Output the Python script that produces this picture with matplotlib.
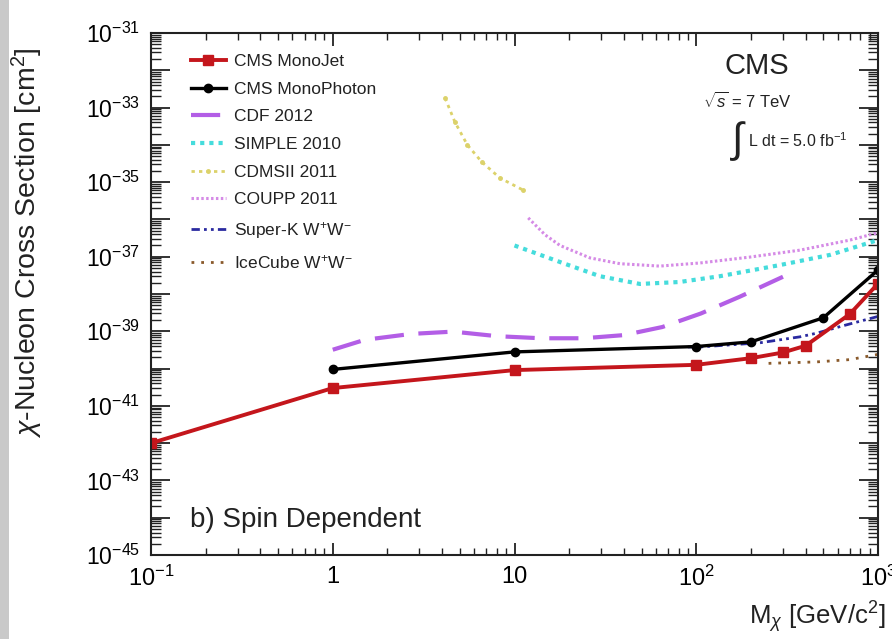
import matplotlib
matplotlib.use("Agg")
import matplotlib.pyplot as plt
from matplotlib.ticker import LogLocator, FuncFormatter, NullFormatter
from matplotlib.patches import Rectangle
import numpy as np

plt.rcParams['font.family'] = ['Liberation Sans', 'DejaVu Sans']
plt.rcParams['mathtext.fontset'] = 'custom'
plt.rcParams['mathtext.rm'] = 'Liberation Sans'
plt.rcParams['mathtext.it'] = 'Liberation Sans:italic'
plt.rcParams['mathtext.bf'] = 'Liberation Sans:bold'

# ---- data ----
monojet_mass = [0.1, 1, 10, 100, 200, 300, 400, 700, 1000]
monojet_xsec = [1.0e-42, 3.0e-41, 9.1e-41, 1.26e-40, 1.9e-40, 2.7e-40, 4.1e-40, 2.9e-39, 1.9e-38]

monophoton_mass = [1, 10, 100, 200, 500, 1000]
monophoton_xsec = [9.5e-41, 2.8e-40, 3.9e-40, 5.2e-40, 2.3e-39, 4.4e-38]

cdf_mass = [1, 1.5, 2.7, 4.6, 8, 14, 24, 40, 65, 106, 174, 300]
cdf_xsec = [3.2e-40, 5.9e-40, 8.5e-40, 9.8e-40, 7.4e-40, 6.5e-40, 6.5e-40, 7.9e-40, 1.3e-39, 3.0e-39, 8.5e-39, 2.9e-38]

simple_mass = [10, 17.8, 29.5, 49, 81, 135, 290, 545, 1000]
simple_xsec = [2.0e-37, 7.2e-38, 3.0e-38, 1.86e-38, 2.1e-38, 3.0e-38, 6.0e-38, 1.12e-37, 2.8e-37]

cdms_mass = [4.15, 4.7, 5.5, 6.6, 8.3, 11.1]
cdms_xsec = [1.8e-33, 4.1e-34, 1.0e-34, 3.5e-35, 1.3e-35, 6.2e-36]

coupp_mass = [11.9, 14.7, 17.8, 26, 38, 63, 105, 198, 372, 702, 1000]
coupp_xsec = [1.1e-36, 3.9e-37, 2.0e-37, 9.3e-38, 6.5e-38, 5.6e-38, 6.8e-38, 9.8e-38, 1.5e-37, 2.8e-37, 4.4e-37]

superk_mass = [90, 105, 223, 372, 460, 640, 1000]
superk_xsec = [3.8e-40, 3.8e-40, 4.9e-40, 7.1e-40, 8.9e-40, 1.4e-39, 2.5e-39]

icecube_mass = [250, 460, 700, 1000]
icecube_xsec = [1.38e-40, 1.51e-40, 1.74e-40, 2.4e-40]

labels = ["CMS MonoJet", "CMS MonoPhoton", "CDF 2012", "SIMPLE 2010",
          "CDMSII 2011", "COUPP 2011", "Super-K W$^{+}$W$^{-}$", "IceCube W$^{+}$W$^{-}$"]

# ---- figure ----
fig = plt.figure(figsize=(8.92, 6.39), dpi=100)
fig.patches.append(Rectangle((0, 0), 9/892, 1, transform=fig.transFigure,
                             facecolor='#c9c9c9', edgecolor='none', zorder=0))
ax = fig.add_axes([151/892, 1 - 555/639, 727/892, 522/639])
ax.set_xscale('log')
ax.set_yscale('log')
ax.set_xlim(0.1, 1000)
ax.set_ylim(1e-45, 1e-31)

h = []
h += ax.plot(cdms_mass, cdms_xsec, color='#dcd26a', ls=(0, (1.2, 1.5)), lw=2.0,
             marker='o', ms=2.5, label=labels[4])
h += ax.plot(coupp_mass, coupp_xsec, color='#d58be6', ls=(0, (0.8, 0.8)), lw=2.2, label=labels[5])
h += ax.plot(simple_mass, simple_xsec, color='#45dcdc', ls=(0, (1, 1.2)), lw=3.0, label=labels[3])
h += ax.plot(cdf_mass, cdf_xsec, color='#b35ee6', ls=(0, (7, 3.5)), lw=3.0, label=labels[2])
h += ax.plot(icecube_mass, icecube_xsec, color='#8a5a2b', ls=(0, (1, 2.5)), lw=2.0, label=labels[7])
h += ax.plot(superk_mass, superk_xsec, color='#2a2aa0', ls=(0, (3, 1.5, 1, 1.5, 1, 1.5)), lw=2.0,
             label=labels[6])
h += ax.plot(monophoton_mass, monophoton_xsec, color='black', lw=2.4, marker='o', ms=6,
             label=labels[1])
h += ax.plot(monojet_mass, monojet_xsec, color='#c4161c', lw=2.8, marker='s', ms=6.5,
             label=labels[0])

order = [labels[0], labels[1], labels[2], labels[3], labels[4], labels[5], labels[6], labels[7]]
hd = {l.get_label(): l for l in h}
leg = ax.legend([hd[o] for o in order], order, loc='upper left',
                bbox_to_anchor=(40/727, 1 - 21/522), frameon=False, fontsize=12.5,
                handlelength=2.0, handletextpad=0.5, labelspacing=0.72, borderaxespad=0,
                borderpad=0)
for t in leg.get_texts():
    t.set_color('#222222')

# ticks
ax.yaxis.set_major_locator(LogLocator(base=10, numticks=30))
ax.yaxis.set_minor_locator(LogLocator(base=10, subs=np.arange(2, 10), numticks=30))
def yfmt(v, pos):
    e = int(round(np.log10(v)))
    return r'$10^{%d}$' % e if e % 2 != 0 else ''
ax.yaxis.set_major_formatter(FuncFormatter(yfmt))
ax.yaxis.set_minor_formatter(NullFormatter())

ax.xaxis.set_major_locator(LogLocator(base=10, numticks=10))
ax.xaxis.set_minor_locator(LogLocator(base=10, subs=np.arange(2, 10), numticks=10))
def xfmt(v, pos):
    e = int(round(np.log10(v)))
    if e == 0:
        return '1'
    if e == 1:
        return '10'
    return r'$10^{%d}$' % e
ax.xaxis.set_major_formatter(FuncFormatter(xfmt))
ax.xaxis.set_minor_formatter(NullFormatter())

ax.tick_params(which='both', direction='in', top=True, right=True, color='#222222')
ax.tick_params(axis='y', which='major', length=14, width=1.3, labelsize=16.5, pad=8)
ax.tick_params(axis='y', which='minor', length=7, width=1.0)
ax.tick_params(axis='x', which='major', length=9, width=1.3, labelsize=17, pad=8)
ax.tick_params(axis='x', which='minor', length=5, width=1.0)
for s in ax.spines.values():
    s.set_linewidth(1.5)
    s.set_color('#222222')

fig.text(27/892, 1 - 243/639, r'$\chi$-Nucleon Cross Section [cm$^{2}$]', fontsize=20.5,
         rotation=90, ha='center', va='center', color='#222222')
ax.set_xlabel(r'M$_{\chi}$ [GeV/c$^{2}$]', fontsize=18.5, color='#222222', ha='right')
ax.xaxis.set_label_coords(1.01, -0.085)

fig.text(757/892, 1 - 66/639, 'CMS', fontsize=21,
         ha='center', va='center', color='#222222')
fig.text(747/892, 1 - 101/639, r'$\sqrt{s}$ = 7 TeV', fontsize=12,
         ha='center', va='center', color='#222222')
fig.text(739/892, 1 - 141/639, r'$\int$', fontsize=30,
         ha='center', va='center', color='#222222')
fig.text(748/892, 1 - 141/639, r'L dt = 5.0 fb$^{-1}$', fontsize=11.5,
         ha='left', va='center', color='#222222')
fig.text(190/892, 1 - 520/639, 'b) Spin Dependent', fontsize=20,
         ha='left', va='center', color='#222222')

fig.savefig('out.png', dpi=100)
